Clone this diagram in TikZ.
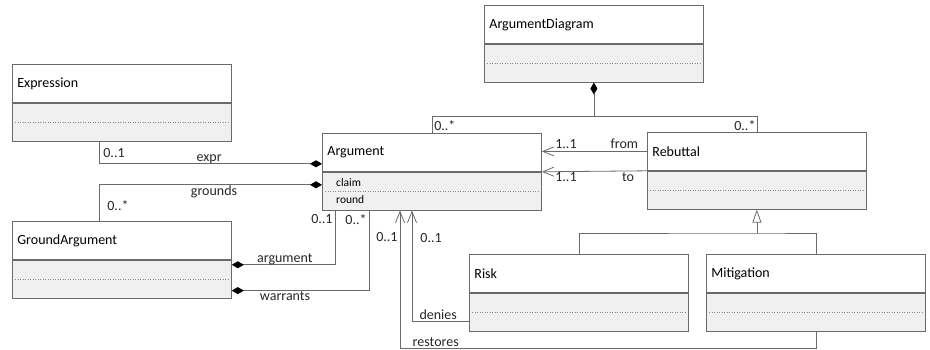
\documentclass[tikz,border=0pt]{standalone}
\usepackage{fontspec}
\setmainfont{Carlito}
\usepackage{tikz}
\usetikzlibrary{arrows.meta, positioning}
\definecolor{edge}{HTML}{6A6A6A}
\definecolor{shade}{HTML}{F0F0F0}
\tikzstyle{classhead} = [rectangle, 
minimum width=219pt, 
minimum height=38pt, 
text width=209pt, 
inner xsep=5pt, 
align=left, 
font=\fontsize{14}{16}\selectfont, 
draw=edge, fill=white, line width=0.8pt]
\tikzstyle{classbody} = [rectangle, 
minimum width=219pt, 
minimum height=38pt, 
inner sep=0pt, 
draw=edge, fill=shade, line width=0.8pt]
\tikzstyle{divider} = [draw=edge!80, dotted, line width=0.5pt]
\tikzstyle{attr} = [font=\fontsize{11.5}{13}\selectfont, inner sep=2pt]
\tikzstyle{lbl} = [font=\fontsize{14}{16}\selectfont, inner sep=2pt, text=black!85]
\tikzstyle{lblup} = [lbl, anchor=base, yshift=2.5pt]
\tikzstyle{lbldown} = [lbl, anchor=north, inner sep=1pt]
\tikzstyle{link} = [draw=edge, line width=0.8pt]
\tikzstyle{comp} = [link, {Diamond[length=12pt,width=7pt,color=black]}-]
\tikzstyle{nav} = [link, -{Straight Barb[length=11pt,width=9pt]}]
\tikzstyle{gen} = [link, {Triangle[open,length=13pt,width=9pt,fill=white]}-]

\begin{document}
\begin{tikzpicture}[x=1pt, y=-1pt]
    \useasboundingbox (0,0) rectangle (930,349);
    \node (diag) [classhead, anchor=north west] at (484,5) {ArgumentDiagram};
    \node (diagb) [classbody, below=0pt of diag] {};
    \node (expr) [classhead, anchor=north west] at (12,64) {Expression};
    \node (exprb) [classbody, below=0pt of expr] {};
    \node (arg) [classhead, anchor=north west] at (322,133) {Argument};
    \node (argb) [classbody, below=0pt of arg] {};
    \node (reb) [classhead, anchor=north west] at (647,132) {Rebuttal};
    \node (rebb) [classbody, below=0pt of reb] {};
    \node (ground) [classhead, anchor=north west] at (12,221) {GroundArgument};
    \node (groundb) [classbody, below=0pt of ground] {};
    \node (risk) [classhead, anchor=north west] at (469,254) {Risk};
    \node (riskb) [classbody, below=0pt of risk] {};
    \node (mitig) [classhead, anchor=north west] at (706,254) {Mitigation};
    \node (mitigb) [classbody, below=0pt of mitig] {};

    \draw [divider] ([xshift=3pt]diagb.west) -- ([xshift=-3pt]diagb.east);
    \draw [divider] ([xshift=3pt]exprb.west) -- ([xshift=-3pt]exprb.east);
    \draw [divider] ([xshift=3pt]argb.west) -- ([xshift=-3pt]argb.east);
    \draw [divider] ([xshift=3pt]rebb.west) -- ([xshift=-3pt]rebb.east);
    \draw [divider] ([xshift=3pt]groundb.west) -- ([xshift=-3pt]groundb.east);
    \draw [divider] ([xshift=3pt]riskb.west) -- ([xshift=-3pt]riskb.east);
    \draw [divider] ([xshift=3pt]mitigb.west) -- ([xshift=-3pt]mitigb.east);
    \node (claim) [attr, anchor=west] at ([xshift=12pt,yshift=9pt]argb.west) {claim};
    \node (round) [attr, anchor=west] at ([xshift=12pt,yshift=-8pt]argb.west) {round};

    % composition
    \coordinate (split) at (diagb.south |- 0,116);
    \draw [comp] (diagb.south) -- (split);
    \draw [link] (split) -| node[lbl, pos=1, anchor=south west] {0..*} (arg.north);
    \draw [link] (split) -| node[lbl, pos=1, anchor=south east, inner sep=1pt] {0..*} (reb.north);
    \draw [comp] ([yshift=8pt]arg.south west) -| 
      node[lblup, pos=0.253] {expr} 
      node[lbl, pos=0.75, anchor=west, xshift=2pt] {0..1} ([xshift=87pt]exprb.south west);
    \draw [comp] ([yshift=-13pt]argb.north west) -| 
      node[lbldown, pos=0.242] {grounds} 
      node[lbl, pos=0.79, anchor=west, xshift=6pt] {0..*} ([xshift=87pt]ground.north west);
    \draw [comp] ([yshift=-5pt]groundb.north east) -| 
      node[lblup, pos=0.257] {argument} 
      node[lbl, pos=0.92, anchor=east] {0..1} ([xshift=13pt]argb.south west);
    \draw [comp] ([yshift=8pt]groundb.south east) -| 
      node[lbldown, pos=0.194] {warrants} 
      node[lbl, pos=0.944, anchor=east] {0..*} ([xshift=47pt]argb.south west);

    % navigation
    \draw [nav] (reb.west) -- 
      node[lblup, pos=0.215] {from} 
      node[lblup, pos=0.77] {1..1} (arg.east |- reb.west);
    \draw [nav] (reb.south west) -- 
      node[lbldown, pos=0.18] {to} 
      node[lbldown, pos=0.77] {1..1} (arg.south east);
    \draw [nav] ([yshift=10pt]riskb.south west) -| 
      node[lblup, pos=0.27] {denies} 
      node[lbl, pos=0.875, anchor=west, xshift=6pt] {0..1} ([xshift=90pt]argb.south west);
    \draw [nav] (mitigb.south) -- ++(0,17) -| 
      node[lblup, pos=0.457] {restores} 
      node[lbl, pos=0.903, anchor=east] {0..1} ([xshift=78pt]argb.south west);

    % generalization
    \coordinate (gsplit) at (rebb.south |- 0,233);
    \draw [gen] (rebb.south) -- (gsplit);
    \draw [link] (risk.north) |- (gsplit) -| (mitig.north);
\end{tikzpicture}
\end{document}
